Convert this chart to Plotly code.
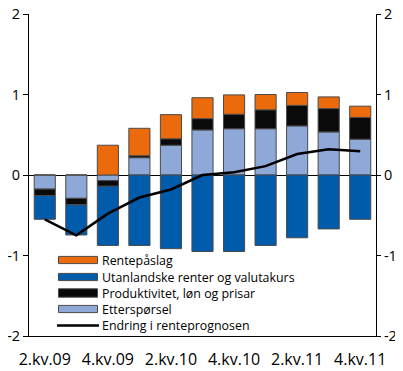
import plotly.graph_objects as go

quarters = ["2.kv.09", "3.kv.09", "4.kv.09", "1.kv.10", "2.kv.10", "3.kv.10",
            "4.kv.10", "1.kv.11", "2.kv.11", "3.kv.11", "4.kv.11"]
tick_labels = ["2.kv.09", "4.kv.09", "2.kv.10", "4.kv.10", "2.kv.11", "4.kv.11"]
y_tick_vals = [-2, -1, 0, 1, 2]
y_tick_text = ["-2", "-1", "0", "1", "2"]

etterspoersel = [-0.175, -0.29, -0.07, 0.215, 0.37, 0.56, 0.575, 0.575, 0.61, 0.535, 0.445]
produktivitet = [-0.08, -0.08, -0.07, 0.025, 0.08, 0.14, 0.18, 0.235, 0.255, 0.29, 0.27]
utanlandske = [-0.295, -0.375, -0.735, -0.875, -0.915, -0.95, -0.95, -0.875, -0.78, -0.67, -0.55]
rentepaaslag = [0.0, 0.0, 0.37, 0.34, 0.30, 0.26, 0.24, 0.19, 0.16, 0.145, 0.14]
endring = [-0.55, -0.75, -0.48, -0.28, -0.18, 0.0, 0.035, 0.11, 0.26, 0.32, 0.295]

legend_names = ["Rentepåslag", "Utanlandske renter og valutakurs",
                "Produktivitet, løn og prisar", "Etterspørsel", "Endring i renteprognosen"]

C_ORANGE = "#EB6A0C"
C_BLUE = "#005BAA"
C_BLACK = "#0a0a0a"
C_LIGHT = "#8EA8D8"

outline = dict(color="#4a4a4a", width=1)
font = "Open Sans, Noto Sans, sans-serif"

# The page has an 8px body margin: figure pixel = page pixel - 8
OFF = 8
W, H = 403 - OFF, 371 - OFF
PL, PR, PT, PB = 29, 376, 14, 336          # plot area in page pixels
ML, MR, MT, MB = PL - OFF, W - (PR - OFF), PT - OFF, H - (PB - OFF)
PW, PH = PR - PL, PB - PT

fig = go.Figure()
fig.add_trace(go.Bar(x=quarters, y=etterspoersel, name=legend_names[3],
                     marker=dict(color=C_LIGHT, line=outline)))
fig.add_trace(go.Bar(x=quarters, y=produktivitet, name=legend_names[2],
                     marker=dict(color=C_BLACK, line=outline)))
fig.add_trace(go.Bar(x=quarters, y=utanlandske, name=legend_names[1],
                     marker=dict(color=C_BLUE, line=outline)))
fig.add_trace(go.Bar(x=quarters, y=rentepaaslag, name=legend_names[0],
                     marker=dict(color=C_ORANGE, line=outline)))
fig.add_trace(go.Scatter(x=quarters, y=endring, mode="lines", name=legend_names[4],
                         line=dict(color="black", width=2.5)))
# invisible trace to activate right axis
fig.add_trace(go.Scatter(x=quarters, y=endring, yaxis="y2", mode="lines",
                         line=dict(width=0), showlegend=False, hoverinfo="skip", opacity=0))

# manual legend (to match the compact spacing of the original)
def px_x(px):
    return (px - PL) / PW

def px_y(py):
    return (PB - py) / PH

centers = [260, 277, 293, 309, 325.5]
fills = [C_ORANGE, C_BLUE, C_BLACK, C_LIGHT, None]
shapes = []
annotations = []
for name, cy, fc in zip(legend_names, centers, fills):
    if fc is not None:
        hh = 4.2 if fc == C_BLACK else 3.6
        shapes.append(dict(type="rect", xref="paper", yref="paper",
                           x0=px_x(58.5), x1=px_x(97.5), y0=px_y(cy + hh), y1=px_y(cy - hh),
                           fillcolor=fc, line=dict(color="#4a4a4a", width=1)))
    else:
        shapes.append(dict(type="line", xref="paper", yref="paper",
                           x0=px_x(57), x1=px_x(99), y0=px_y(cy), y1=px_y(cy),
                           line=dict(color="black", width=2.5)))
    annotations.append(dict(text=name, xref="paper", yref="paper", x=px_x(101), y=px_y(cy),
                            xanchor="left", yanchor="middle", showarrow=False, borderpad=0,
                            font=dict(size=12.4, family=font, color="black")))

yfont = dict(size=14.5)
fig.update_layout(
    width=W, height=H,
    margin=dict(l=ML, r=MR, t=MT, b=MB, autoexpand=False),
    paper_bgcolor="white", plot_bgcolor="white",
    barmode="relative", bargap=0.33,
    font=dict(family=font, size=16, color="black"),
    showlegend=False,
    shapes=shapes, annotations=annotations,
    xaxis=dict(type="category", tickmode="array", tickvals=tick_labels, ticktext=tick_labels,
               showline=True, linecolor="black", linewidth=1, ticks="",
               showgrid=False, ticklabelstandoff=9, range=[-0.5, 10.5], automargin=False,
               ticklabeloverflow="allow", tickfont=dict(size=16)),
    yaxis=dict(range=[-2, 2], tickmode="array", tickvals=y_tick_vals, ticktext=y_tick_text,
               showgrid=False, zeroline=True, zerolinecolor="black",
               zerolinewidth=1, showline=True, linecolor="black", linewidth=1,
               ticks="outside", ticklen=5, tickcolor="black", automargin=False,
               ticklabelstandoff=0, ticklabeloverflow="allow", tickfont=yfont),
    yaxis2=dict(range=[-2, 2], tickmode="array", tickvals=y_tick_vals, ticktext=y_tick_text,
                overlaying="y", side="right", showgrid=False,
                zeroline=False, showline=True, linecolor="black", linewidth=1,
                ticks="outside", ticklen=4, tickcolor="black", automargin=False,
                ticklabelstandoff=0, ticklabeloverflow="allow", tickfont=yfont),
)

fig.write_html("out.html")
